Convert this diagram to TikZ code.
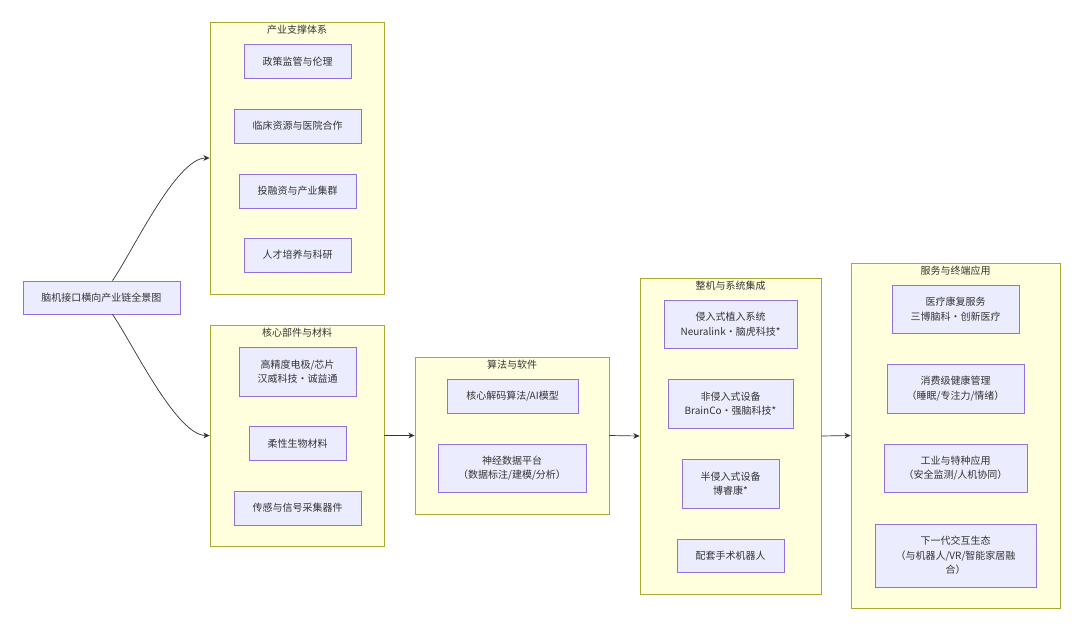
\documentclass[tikz,border=0pt]{standalone}
\usepackage{fontspec}
\setmainfont{Noto Sans CJK SC}
\usetikzlibrary{arrows.meta,positioning}
\definecolor{groupfill}{HTML}{FFFFDE}
\definecolor{groupline}{HTML}{AAAA33}
\definecolor{itemfill}{HTML}{ECECFF}
\definecolor{itemline}{HTML}{9370DB}
\definecolor{inktext}{HTML}{333333}

\begin{document}
\begin{tikzpicture}[x=1pt,y=-1pt,font=\fontsize{10}{14.5}\selectfont,text=inktext,
groupbox/.style={draw=groupline,fill=groupfill,line width=.8pt,inner sep=0pt},
grouptitle/.style={inner sep=1pt},
itembox/.style={draw=itemline,fill=itemfill,line width=.8pt,align=center,inner sep=0pt,minimum height=34pt},
arr/.style={-{Stealth[length=2.2mm,width=2mm]},line width=.7pt,draw=inktext}]
\useasboundingbox[fill=white](0,0) rectangle (1080,627);
% root
\node[itembox,minimum width=157pt,minimum height=33pt](root) at (101.5,297.5){脑机接口横向产业链全景图};
% support
\node[groupbox,minimum width=174pt,minimum height=272pt](support) at (297,158){};
\node[grouptitle,below=2pt of support.north](supportT){产业支撑体系};
\node[itembox,minimum width=107pt](policy) at (297.5,61.5){政策监管与伦理};
\node[itembox,minimum width=127pt](clinic) at (297.5,126){临床资源与医院合作};
\node[itembox,minimum width=117pt](invest) at (297.5,191){投融资与产业集群};
\node[itembox,minimum width=107pt](talent) at (297.5,255){人才培养与科研};
% parts
\node[groupbox,minimum width=174pt,minimum height=221pt](parts) at (297,435.5){};
\node[grouptitle,below=2pt of parts.north](partsT){核心部件与材料};
\node[itembox,minimum width=117pt,minimum height=49pt](electrode) at (297.5,371.5){高精度电极/芯片\\汉威科技・诚益通};
\node[itembox,minimum width=97pt](material) at (297.5,443.5){柔性生物材料};
\node[itembox,minimum width=127pt](sensor) at (297.5,508){传感与信号采集器件};
% algorithm
\node[groupbox,minimum width=194pt,minimum height=157pt](algo) at (512,435.5){};
\node[grouptitle,below=2pt of algo.north](algoT){算法与软件};
\node[itembox,minimum width=131pt](decode) at (512.5,396){核心解码算法/AI模型};
\node[itembox,minimum width=148pt,minimum height=48pt](platform) at (512,468){神经数据平台\\（数据标注/建模/分析）};
% systems
\node[groupbox,minimum width=181pt,minimum height=316pt](system) at (730.5,436){};
\node[grouptitle,below=2pt of system.north](systemT){整机与系统集成};
\node[itembox,minimum width=133pt,minimum height=48pt](invasive) at (730.5,324){侵入式植入系统\\Neuralink・脑虎科技*};
\node[itembox,minimum width=125pt,minimum height=49pt](noninv) at (730.5,403.5){非侵入式设备\\BrainCo・强脑科技*};
\node[itembox,minimum width=97pt,minimum height=49pt](semi) at (730.5,483.5){半侵入式设备\\博睿康*};
\node[itembox,minimum width=107pt,minimum height=33pt](robot) at (730.5,555.5){配套手术机器人};
% services
\node[groupbox,minimum width=209pt,minimum height=345pt](service) at (955.5,435.5){};
\node[grouptitle,below=2pt of service.north](serviceT){服务与终端应用};
\node[itembox,minimum width=127pt,minimum height=48pt](rehab) at (955.5,309){医疗康复服务\\三博脑科・创新医疗};
\node[itembox,minimum width=137pt,minimum height=49pt](consumer) at (955.5,388.5){消费级健康管理\\（睡眠/专注力/情绪）};
\node[itembox,minimum width=143pt,minimum height=48pt](industry) at (955.5,468){工业与特种应用\\（安全监测/人机协同）};
\node[itembox,minimum width=161pt,minimum height=63pt](nextgen) at (955.5,555.5){下一代交互生态\\（与机器人/VR/智能家居融\\合）};
% connectors
\draw[arr]([xshift=11pt]root.north) to[out=55,in=180,looseness=.55] (support.west);
\draw[arr]([xshift=11pt]root.south) to[out=-55,in=180,looseness=.55] (parts.west);
\draw[arr](parts.east)--(algo.west);
\draw[arr](algo.east)--(system.west);
\draw[arr](system.east)--(service.west);
\end{tikzpicture}
\end{document}
